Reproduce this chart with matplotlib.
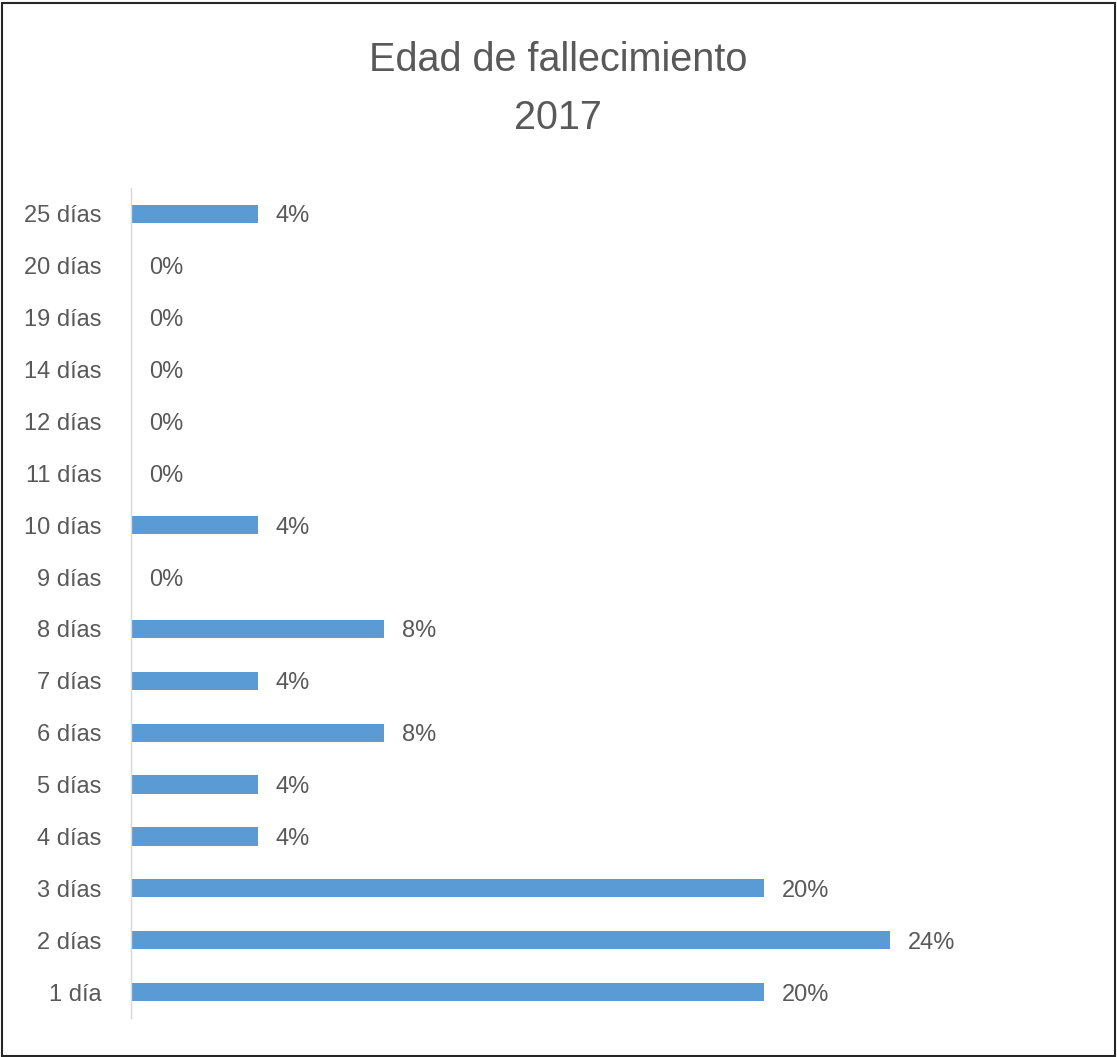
import matplotlib
matplotlib.use("Agg")
import matplotlib.pyplot as plt
from matplotlib import font_manager
from matplotlib.patches import Rectangle

categories = ["1 día", "2 días", "3 días", "4 días", "5 días", "6 días", "7 días", "8 días",
              "9 días", "10 días", "11 días", "12 días", "14 días", "19 días", "20 días", "25 días"]
values = [20, 24, 20, 4, 4, 8, 4, 8, 0, 4, 0, 0, 0, 0, 0, 4]
title_lines = ["Edad de fallecimiento", "2017"]

avail = {f.name for f in font_manager.fontManager.ttflist}
fam = "Liberation Sans Narrow" if "Liberation Sans Narrow" in avail else "Liberation Sans"
plt.rcParams["font.family"] = [fam, "DejaVu Sans"]

W, H = 1117, 1057
fig = plt.figure(figsize=(W / 100, H / 100), dpi=100)
ax = fig.add_axes([131 / W, 1 - 1018 / H, (1000 - 131) / W, (1018 - 188) / H])

txt = "#595959"
bar_color = "#5B9BD5"
y = list(range(len(categories)))
ax.barh(y, values, height=0.35, color=bar_color)
ax.set_ylim(-0.5, len(categories) - 0.5)
ax.set_xlim(0, 24 * (1000 - 131) / (890 - 131))
ax.set_yticks(y)
ax.set_yticklabels(categories, fontsize=17, color=txt)
ax.tick_params(axis="y", length=0, pad=21)
ax.set_xticks([])
for s in ["top", "right", "bottom"]:
    ax.spines[s].set_visible(False)
ax.spines["left"].set_color("#D9D9D9")
ax.spines["left"].set_linewidth(1)

for yi, v in zip(y, values):
    ax.annotate(f"{v}%", (v, yi), xytext=(13, 0), textcoords="offset points",
                va="center_baseline", ha="left", fontsize=17, color=txt)

fig.text(558 / W, 1 - 60 / H, title_lines[0], ha="center", va="center", fontsize=28.5, color=txt)
fig.text(558 / W, 1 - 118 / H, title_lines[1], ha="center", va="center", fontsize=28.5, color=txt)

fig.patches.append(Rectangle((1.5 / W, 1.5 / H), (W - 4) / W, (H - 4) / H,
                             transform=fig.transFigure, fill=False,
                             edgecolor="#262626", linewidth=1.5))

fig.savefig("out.png", dpi=100, facecolor="white")
